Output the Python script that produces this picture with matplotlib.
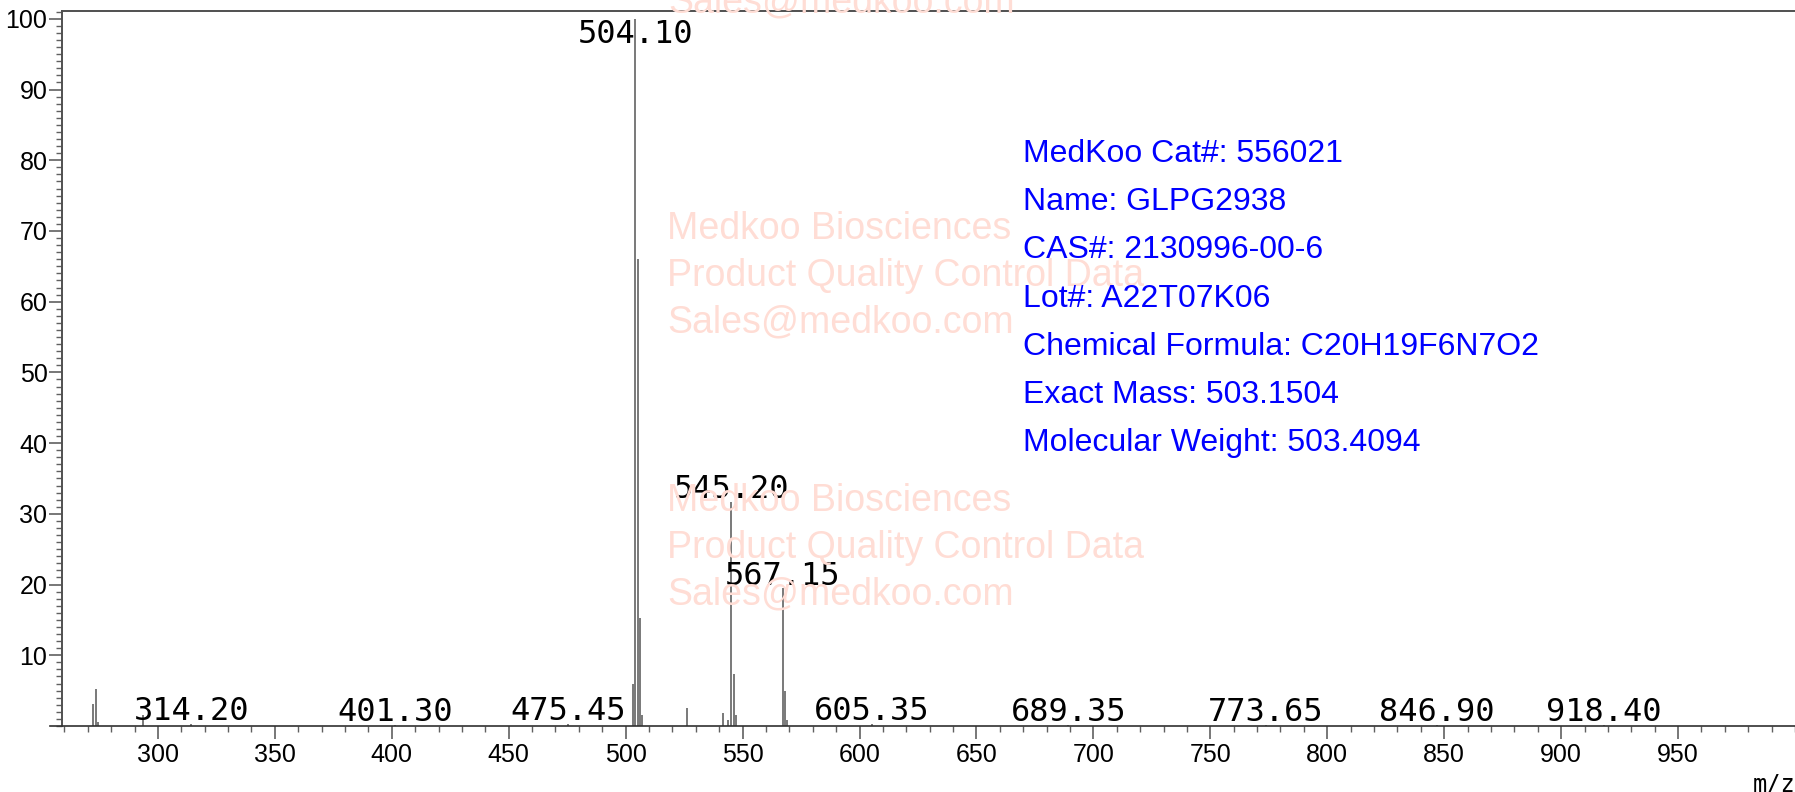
import matplotlib
matplotlib.use("Agg")
from matplotlib import pyplot as plt
from matplotlib.ticker import MultipleLocator

plt.rcParams['font.family'] = ['Liberation Sans', 'DejaVu Sans']

# peaks (m/z, relative intensity)
mz = [272.4, 273.5, 274.2, 293.7, 314.2, 401.3, 475.45,
      503.1, 504.1, 505.1, 506.1, 507.1, 526.1,
      541.8, 543.7, 545.2, 546.2, 547.2,
      567.15, 568.2, 569.2,
      605.35, 689.35, 773.65, 846.9, 918.4]
intensity = [3.1, 5.2, 0.5, 1.5, 0.3, 0.2, 0.3,
             5.9, 100, 66, 15.3, 1.5, 2.5,
             1.8, 0.8, 31.7, 7.3, 1.5,
             19.5, 5.0, 0.8,
             0.3, 0.2, 0.2, 0.2, 0.2]

# labelled peaks
label_mz = [314.20, 401.30, 475.45, 504.10, 545.20, 567.15,
            605.35, 689.35, 773.65, 846.90, 918.40]
label_int = [0.3, 0.2, 0.3, 100, 31.7, 19.5, 0.3, 0.2, 0.2, 0.2, 0.2]

info_lines = ["MedKoo Cat#: 556021",
              "Name: GLPG2938",
              "CAS#: 2130996-00-6",
              "Lot#: A22T07K06",
              "Chemical Formula: C20H19F6N7O2",
              "Exact Mass: 503.1504",
              "Molecular Weight: 503.4094"]
watermark = ["Medkoo Biosciences", "Product Quality Control Data", "Sales@medkoo.com"]

W, H = 1795, 792
fig = plt.figure(figsize=(W / 100, H / 100), dpi=100)
ax = fig.add_axes([62 / W, 66 / H, 1 - 62 / W, 715 / H])

ax.vlines(mz, 0, intensity, color='#555555', lw=1.1, zorder=3)

for m, i in zip(label_mz, label_int):
    ax.text(m, min(i + 0.5, 96.6), "%.2f" % m, ha='center', va='baseline',
            fontsize=23, family='DejaVu Sans Mono', color='black', zorder=4)

ax.set_xlim(259, 1000)
ax.set_ylim(0, 101.1)

ax.xaxis.set_major_locator(MultipleLocator(50))
ax.xaxis.set_minor_locator(MultipleLocator(10))
ax.yaxis.set_major_locator(MultipleLocator(10))
ax.yaxis.set_minor_locator(MultipleLocator(1))
ax.set_yticks([10, 20, 30, 40, 50, 60, 70, 80, 90, 100])
ax.set_xticks(list(range(300, 1000, 50)))

ax.tick_params(axis='x', which='major', length=9.5, width=1.2, color='#606060',
               labelsize=18, pad=3)
ax.tick_params(axis='x', which='minor', length=4, width=1.0, color='#606060')
ax.tick_params(axis='y', which='major', length=9.5, width=1.2, color='#606060',
               labelsize=18, pad=1)
ax.tick_params(axis='y', which='minor', length=4, width=1.0, color='#606060')

for s in ['right', 'bottom']:
    ax.spines[s].set_visible(False)
for s in ['left', 'top']:
    ax.spines[s].set_color('#505050')
    ax.spines[s].set_linewidth(1.4)
ax.plot([-12 / (W - 62), 1], [0, 0], transform=ax.transAxes, color='#303030',
        lw=1.2, clip_on=False, zorder=5)

# watermark
wm_color = '#FFDDD5'
for top in [229, 501]:
    for k, line in enumerate(watermark):
        fig.text(667 / W, 1 - (top + k * 46.5) / H, line, color=wm_color,
                 fontsize=27, ha='left', va='center', zorder=0)
fig.text(668 / W, 1 - 2 / H, watermark[2], color=wm_color, fontsize=27,
         ha='left', va='center', zorder=0)

for k, line in enumerate(info_lines):
    fig.text(1023 / W, 1 - (154 + k * 48.2) / H, line, color='#0000FF',
             fontsize=23, ha='left', va='center')

fig.text(1.0, -0.006, "m/z", ha='right', va='bottom', fontsize=17,
         family='DejaVu Sans Mono')

fig.savefig("out.png", dpi=100)
